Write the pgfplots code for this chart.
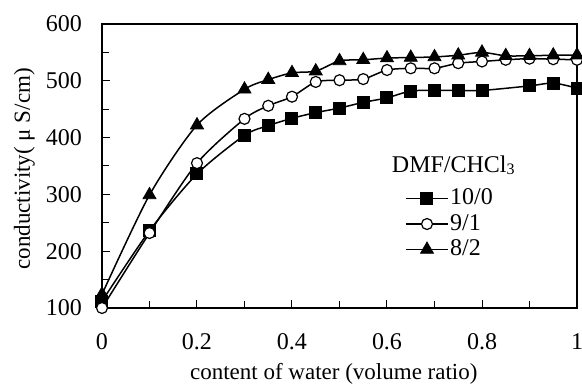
\documentclass[border=0pt]{standalone}
\usepackage{fontspec}
\setmainfont{Liberation Serif}
\usepackage{pgfplots}
\pgfplotsset{compat=1.18}
\begin{document}
\fontsize{24}{28}\selectfont
\begin{tikzpicture}[x=1pt,y=1pt]
\path[use as bounding box] (-102,-82) rectangle (480,308);
\begin{axis}[
  at={(0,0)}, anchor=south west,
  scale only axis, width=475pt, height=284pt,
  xmin=0, xmax=1, ymin=100, ymax=600,
  axis line style={line width=1.5pt},
  tick pos=left, tick align=inside,
  major tick length=8pt, minor tick length=7pt,
  tick style={line width=1pt, black},
  xtick={0,0.2,0.4,0.6,0.8,1},
  xticklabels={0,0.2,0.4,0.6,0.8,1},
  minor xtick={0.1,0.3,0.5,0.7,0.9},
  ytick={100,200,300,400,500,600},
  minor ytick={150,250,350,450,550},
  /pgf/number format/assume math mode=true,
  ticklabel style={font=\fontsize{24}{28}\selectfont},
  yticklabel style={xshift=-12pt},
  xticklabel style={yshift=-17pt},
  xlabel={content of water (volume ratio)},
  ylabel={conductivity( μ S/cm)},
  label style={font=\fontsize{23}{28}\selectfont},
  x label style={at={(axis description cs:0.488,-0.2535)}, anchor=base},
  y label style={at={(axis description cs:-0.1516,0.49)}, anchor=base},
  every axis plot/.append style={line width=1.5pt, black, smooth, tension=0.45},
  legend style={at={(rel axis cs:0.638,0.426)}, anchor=north west, draw=none, fill=none,
    inner sep=0pt, row sep=3pt, font=\fontsize{24}{26}\selectfont,
    nodes={inner sep=1.5pt}},
  legend cell align=left,
  legend image code/.code={\draw[mark repeat=2,mark phase=2] plot[smooth=false] coordinates {(0pt,0pt) (21pt,0pt) (42pt,0pt)};},
  clip=false,
]
\addplot[mark=square*, mark size=6pt, mark options={solid, fill=black, line width=1pt}] coordinates {
(0,112) (0.1,236) (0.2,336) (0.3,404) (0.35,421) (0.4,434) (0.45,444) (0.5,452)
(0.55,462) (0.6,470) (0.65,482) (0.7,483) (0.75,483) (0.8,483) (0.9,491) (0.95,496) (1.0,487)};
\addlegendentry{10/0}
\addplot[mark=*, mark size=5.5pt, mark options={solid, fill=white, line width=1.2pt}] coordinates {
(0,100) (0.1,232) (0.2,355) (0.3,433) (0.35,456) (0.4,472) (0.45,498) (0.5,501)
(0.55,503) (0.6,519) (0.65,522) (0.7,522) (0.75,531) (0.8,534) (0.85,537) (0.9,539) (0.95,538) (1.0,537)};
\addlegendentry{9/1}
\addplot[mark=triangle*, mark size=7.5pt, mark options={solid, fill=black, line width=0.8pt}] coordinates {
(0,124) (0.1,299) (0.2,422) (0.3,485) (0.35,502) (0.4,514) (0.45,517) (0.5,535)
(0.55,537) (0.6,540) (0.65,541) (0.7,542) (0.75,545) (0.8,550) (0.85,544) (0.9,544) (0.95,545) (1.0,545)};
\addlegendentry{8/2}
\node[anchor=base west, inner sep=0pt, font=\fontsize{24}{28}\selectfont] at (axis cs:0.61,339) {DMF/CHCl{\fontsize{16}{16}\selectfont\raisebox{-2pt}{3}}};
\end{axis}
\end{tikzpicture}
\end{document}
